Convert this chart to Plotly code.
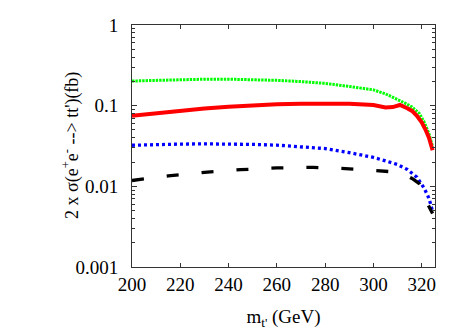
import plotly.graph_objects as go

# cross sections (fb)
x_green = [200, 210, 220, 230, 240, 250, 260, 270, 280, 290, 300, 305, 310, 313, 316, 319, 321, 323, 324.5]
y_green = [0.202, 0.207, 0.211, 0.213, 0.213, 0.211, 0.206, 0.199, 0.189, 0.173, 0.157, 0.140, 0.120, 0.108, 0.096, 0.080, 0.063, 0.045, 0.031]

x_red = [200, 210, 220, 230, 240, 250, 260, 270, 280, 290, 300, 305, 308, 311, 314, 316, 318, 320, 321.5, 323, 324.5]
y_red = [0.075, 0.081, 0.087, 0.092, 0.097, 0.101, 0.104, 0.106, 0.107, 0.106, 0.102, 0.095, 0.096, 0.102, 0.093, 0.086, 0.075, 0.062, 0.051, 0.040, 0.028]

x_blue = [200, 210, 220, 230, 240, 250, 260, 270, 280, 290, 300, 305, 310, 314, 318, 321, 323, 324.5]
y_blue = [0.0323, 0.0330, 0.0334, 0.0336, 0.0335, 0.0331, 0.0324, 0.0312, 0.0294, 0.0262, 0.0228, 0.0207, 0.0186, 0.0162, 0.0130, 0.0095, 0.0071, 0.0049]

x_black = [200, 215, 230, 245, 260, 275, 290, 300, 305, 310, 313, 316, 319, 321, 322.5, 324.5]
y_black = [0.0118, 0.0135, 0.0149, 0.0161, 0.0169, 0.0172, 0.0165, 0.0158, 0.0155, 0.0150, 0.0140, 0.0125, 0.0108, 0.0085, 0.0060, 0.0046]

x_ticks = [200, 220, 240, 260, 280, 300, 320]
y_ticks = [0.001, 0.01, 0.1, 1]
y_ticklabels = ["0.001", "0.01", "0.1", "1"]

FONT = "Liberation Serif"

fig = go.Figure()

fig.add_trace(go.Scatter(x=x_green, y=y_green, mode="lines",
                         line=dict(color="#00ff00", width=3, dash="2.4px,1px")))
fig.add_trace(go.Scatter(x=x_red, y=y_red, mode="lines",
                         line=dict(color="#ff0000", width=4)))
fig.add_trace(go.Scatter(x=x_blue, y=y_blue, mode="lines",
                         line=dict(color="#0000ff", width=3.3, dash="3px,3px")))
fig.add_trace(go.Scatter(x=x_black, y=y_black, mode="lines",
                         line=dict(color="#000000", width=3.3, dash="12px,23px")))

# page body has an 8px margin, so the figure is sized to fit inside the window
fig.update_layout(
    width=463, height=322,
    margin=dict(l=124, r=36, t=17, b=63),
    paper_bgcolor="white", plot_bgcolor="white",
    showlegend=False,
    font=dict(family=FONT, size=19, color="black"),
)

fig.update_xaxes(
    range=[200, 325.5],
    tickvals=x_ticks,
    ticks="inside", ticklen=4, tickcolor="#333",
    showline=True, linecolor="#333", linewidth=1, mirror="ticks",
    showgrid=False, zeroline=False, automargin=False,
    title=dict(text="m<sub>t'</sub> (GeV)", font=dict(family=FONT, size=19)),
    tickfont=dict(family=FONT, size=19, color="black"),
)

fig.update_yaxes(
    type="log", range=[-3, 0],
    tickvals=y_ticks, ticktext=y_ticklabels,
    ticks="inside", ticklen=5, tickcolor="#333",
    minor=dict(ticks="inside", ticklen=3, tickcolor="#333", dtick="D1", showgrid=False),
    showline=True, linecolor="#333", linewidth=1, mirror="ticks",
    showgrid=False, zeroline=False, automargin=False,
    ticklabelstandoff=9,
    tickfont=dict(family=FONT, size=19, color="black"),
)

# y title sits closer to the axis than plotly's own title would
fig.add_annotation(
    text="2 x σ(e<sup>+</sup>e<sup>-</sup> --> tt')(fb)",
    xref="paper", yref="paper", x=0, y=0.5,
    xanchor="center", yanchor="middle", xshift=-61,
    textangle=-90, showarrow=False,
    font=dict(family=FONT, size=18, color="black"),
)

fig.write_html("out.html")
